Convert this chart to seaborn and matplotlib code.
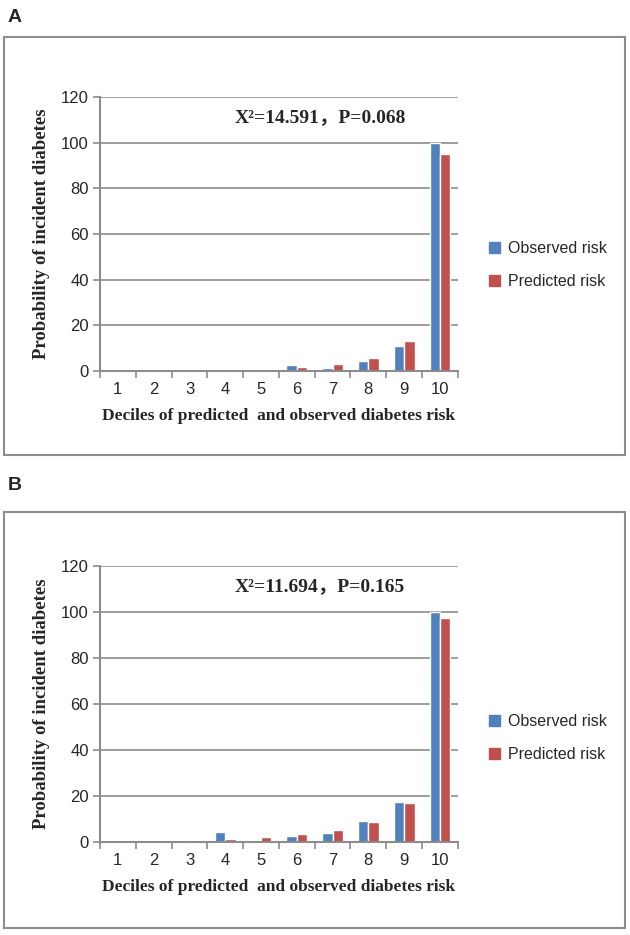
import matplotlib
matplotlib.use("Agg")
import matplotlib.pyplot as plt
import numpy as np
import pandas as pd
import seaborn as sns
from matplotlib.patches import Rectangle

# ── Data ──────────────────────────────────────────────────────────────────────
deciles = [str(i) for i in range(1, 11)]
series_names = ["Observed risk", "Predicted risk"]

observed_a = [0.6, 0.6, 0.5, 0.0, 0.0, 2.5, 1.3, 4.2, 11.0, 100.0]
predicted_a = [0.2, 0.2, 0.2, 0.6, 1.0, 1.8, 3.1, 5.9, 13.0, 95.0]
observed_b = [0.0, 0.0, 0.0, 4.5, 0.0, 2.6, 3.8, 9.3, 17.6, 100.0]
predicted_b = [0.0, 0.6, 1.0, 1.3, 2.2, 3.5, 5.4, 8.6, 17.1, 97.5]

stat_a = "X²=14.591，P=0.068"
stat_b = "X²=11.694，P=0.165"
y_ticks = [0, 20, 40, 60, 80, 100, 120]

colors = ["#4F81BD", "#C0504D"]
serif = ["Liberation Serif", "Noto Sans CJK SC", "DejaVu Serif"]
sans = ["Liberation Sans", "DejaVu Sans"]

sns.set_theme(style="white")
plt.rcParams["font.family"] = sans


def long_frame(obs, pred):
    return pd.DataFrame({
        "decile": deciles * 2,
        "value": obs + pred,
        "series": [series_names[0]] * 10 + [series_names[1]] * 10,
    })


def draw_panel(fig, rect, df, stat, legend_y):
    ax = fig.add_axes(rect)
    sns.barplot(data=df, x="decile", y="value", hue="series", order=deciles,
                hue_order=series_names, palette=colors, width=0.58, gap=0,
                saturation=1, ax=ax, legend=False)
    ax.set_xlim(-0.5, 9.5)
    ax.set_ylim(0, 120)
    ax.set_yticks(y_ticks)
    ax.yaxis.grid(True, color="#8c8c8c", linewidth=1.2)
    ax.set_axisbelow(True)
    for s in ["top", "right"]:
        ax.spines[s].set_visible(False)
    for s in ["left", "bottom"]:
        ax.spines[s].set_color("#8c8c8c")
        ax.spines[s].set_linewidth(1.5)
    ax.set_xticks(np.arange(-0.5, 10, 1), minor=True)
    ax.tick_params(axis="x", which="major", length=0, labelsize=12, pad=8)
    ax.tick_params(axis="x", which="minor", length=5, width=1.2,
                   color="#8c8c8c", direction="out", bottom=True)
    ax.tick_params(axis="y", length=5, width=1.2, color="#8c8c8c",
                   direction="out", left=True, labelsize=12, pad=3)
    ax.set_xlabel("Deciles of predicted  and observed diabetes risk",
                  family=serif, fontweight="bold", fontsize=12.5, labelpad=8)
    ax.set_ylabel("Probability of incident diabetes", family=serif,
                  fontweight="bold", fontsize=13.5, labelpad=8)
    ax.text(5.65, 111, stat, family=serif, fontweight="bold", fontsize=14,
            ha="center", va="center")
    handles = [Rectangle((0, 0), 1, 1, color=c) for c in colors]
    fig.legend(handles, series_names, loc="center left",
               bbox_to_anchor=(0.753, legend_y), frameon=False, fontsize=11.5,
               handlelength=0.7, handleheight=0.7, handletextpad=0.5,
               labelspacing=1.1)
    return ax


fig = plt.figure(figsize=(6.3, 9.35), dpi=100)

# panel frames
for y0, h in [(0.5134, 0.447), (0.0075, 0.445)]:
    fig.patches.append(Rectangle((0.0063, y0), 0.9857, h, transform=fig.transFigure,
                                 fill=False, edgecolor="#8c8c8c", linewidth=1.5))

fig.text(0.012, 0.981, "A", fontsize=14, fontweight="bold", va="center")
fig.text(0.012, 0.481, "B", fontsize=14, fontweight="bold", va="center")

draw_panel(fig, [0.1587, 0.6032, 0.568, 0.293], long_frame(observed_a, predicted_a),
           stat_a, 1 - 265 / 935)
draw_panel(fig, [0.1587, 0.0995, 0.568, 0.295], long_frame(observed_b, predicted_b),
           stat_b, 1 - 738 / 935)

fig.savefig("out.png", dpi=100)
